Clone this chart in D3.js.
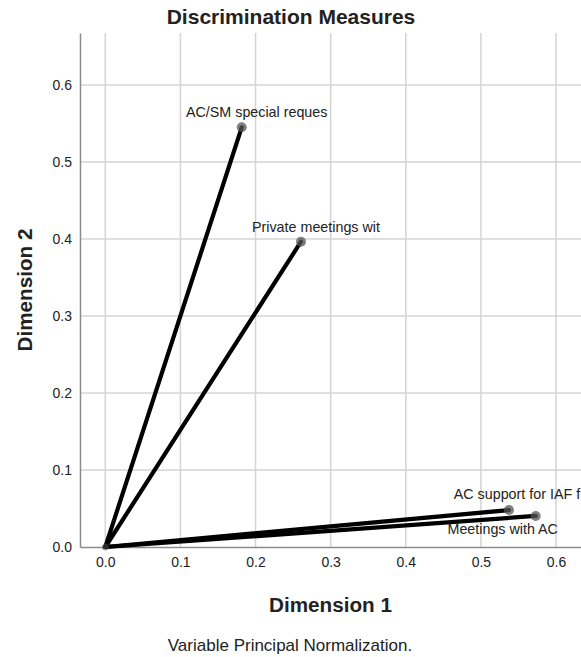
<!DOCTYPE html>
<html>
<head>
<meta charset="utf-8">
<script src="https://cdn.jsdelivr.net/npm/d3@7"></script>
<style>
  body { margin: 0; background: #fff; }
  text { font-family: Arial, "Liberation Sans", sans-serif; fill: #222; }
</style>
</head>
<body>
<div id="chart"></div>
<script>
// discrimination measures
const variables = ["AC/SM special reques", "Private meetings wit", "AC support for IAF f", "Meetings with AC"];
const dim1 = [0.1816, 0.2605, 0.5374, 0.573];
const dim2 = [0.545, 0.3965, 0.048, 0.0403];
const xTicks = [0.0, 0.1, 0.2, 0.3, 0.4, 0.5, 0.6];
const yTicks = [0.0, 0.1, 0.2, 0.3, 0.4, 0.5, 0.6];

// label placement (dx from point, above/below)
const labelDx = [15, 15, 8, -33];
const labelDy = [-15, -15, -16, 13];

const W = 581, H = 657;
const margin = { top: 33, right: 0, bottom: 110, left: 80 };

const svg = d3.select("#chart").append("svg")
  .attr("width", W)
  .attr("height", H);

const x = d3.scaleLinear()
  .domain([-0.0337, 0.6333])
  .range([margin.left, W - margin.right]);

const y = d3.scaleLinear()
  .domain([0, 0.6675])
  .range([H - margin.bottom, margin.top]);

const data = variables.map((v, i) => ({ name: v, d1: dim1[i], d2: dim2[i], dx: labelDx[i], dy: labelDy[i] }));

// gridlines
svg.append("g")
  .selectAll("line")
  .data(xTicks)
  .enter()
  .append("line")
    .attr("x1", d => x(d)).attr("x2", d => x(d))
    .attr("y1", y.range()[1]).attr("y2", y(0))
    .attr("stroke", "#d4d4d4")
    .attr("stroke-width", 1.5);

svg.append("g")
  .selectAll("line")
  .data(yTicks.filter(d => d > 0))
  .enter()
  .append("line")
    .attr("x1", margin.left).attr("x2", W)
    .attr("y1", d => y(d)).attr("y2", d => y(d))
    .attr("stroke", "#d4d4d4")
    .attr("stroke-width", 1.5);

// axes
const xAxis = svg.append("g")
  .attr("transform", "translate(0," + y(0) + ")")
  .call(d3.axisBottom(x).tickValues(xTicks).tickFormat(d3.format(".1f")).tickSize(0).tickPadding(10));
xAxis.select(".domain").attr("stroke", "#8c8c8c").attr("stroke-width", 1.5);
xAxis.selectAll("text").style("font-size", "14px").attr("fill", "#222");

const yAxis = svg.append("g")
  .attr("transform", "translate(" + margin.left + ",0)")
  .call(d3.axisLeft(y).tickValues(yTicks).tickFormat(d3.format(".1f")).tickSize(0).tickPadding(8));
yAxis.select(".domain").attr("stroke", "#8c8c8c").attr("stroke-width", 1.5);
yAxis.selectAll("text").style("font-size", "14px").attr("fill", "#222");

// vectors from origin
svg.append("g")
  .selectAll("line")
  .data(data)
  .enter()
  .append("line")
    .attr("x1", x(0)).attr("y1", y(0))
    .attr("x2", d => x(d.d1)).attr("y2", d => y(d.d2))
    .attr("stroke", "#000")
    .attr("stroke-width", 4.2)
    .attr("stroke-linecap", "round");

svg.append("circle")
  .attr("cx", x(0)).attr("cy", y(0)).attr("r", 3.5)
  .attr("fill", "#555").attr("opacity", 0.5);

svg.append("g")
  .selectAll("circle")
  .data(data)
  .enter()
  .append("circle")
    .attr("cx", d => x(d.d1))
    .attr("cy", d => y(d.d2))
    .attr("r", 5)
    .attr("fill", "#555")
    .attr("opacity", 0.75);

svg.append("g")
  .selectAll("text")
  .data(data)
  .enter()
  .append("text")
    .attr("x", d => x(d.d1) + d.dx)
    .attr("y", d => y(d.d2) + d.dy)
    .attr("dy", "0.35em")
    .attr("text-anchor", "middle")
    .style("font-size", "14.3px")
    .text(d => d.name);

// titles
svg.append("text")
  .attr("x", 291).attr("y", 24)
  .attr("text-anchor", "middle")
  .style("font-size", "21px").style("font-weight", "bold")
  .text("Discrimination Measures");

svg.append("text")
  .attr("x", (x.range()[0] + x.range()[1]) / 2).attr("y", 612)
  .attr("text-anchor", "middle")
  .style("font-size", "20.7px").style("font-weight", "bold")
  .text("Dimension 1");

svg.append("text")
  .attr("transform", "translate(32," + 290 + ") rotate(-90)")
  .attr("text-anchor", "middle")
  .style("font-size", "20.7px").style("font-weight", "bold")
  .text("Dimension 2");

svg.append("text")
  .attr("x", 290).attr("y", 651)
  .attr("text-anchor", "middle")
  .style("font-size", "17px")
  .text("Variable Principal Normalization.");
</script>
</body>
</html>
